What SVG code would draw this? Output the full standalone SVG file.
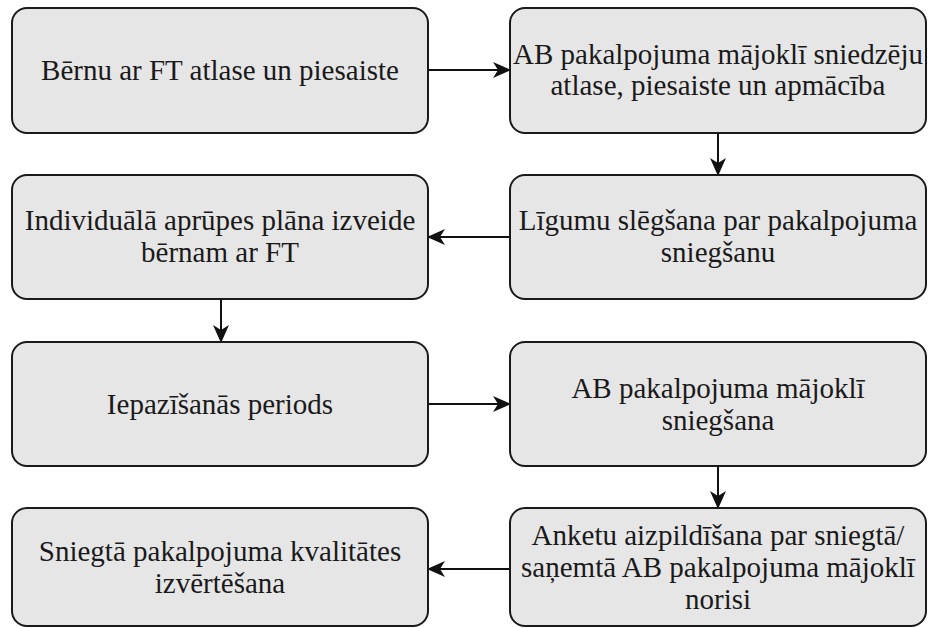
<svg xmlns="http://www.w3.org/2000/svg" width="928" height="628" viewBox="0 0 928 628">
<style>
.box{fill:#e6e6e6;stroke:#1a1a1a;stroke-width:2}
text{font-family:"Liberation Serif","DejaVu Serif",serif;font-size:29px;fill:#1a1a1a;text-anchor:middle}
.c{stroke:#111;stroke-width:2;fill:none;marker-end:url(#ah)}
</style>
<defs>
<marker id="ah" viewBox="0 0 18 18" refX="17" refY="9" markerWidth="18" markerHeight="18" markerUnits="userSpaceOnUse" orient="auto">
<path d="M0,1 L18,9 L0,17 L5,9 Z" fill="#111"/>
</marker>
</defs>
<rect width="928" height="628" fill="#fff"/>
<g id="connectors">
<line class="c" x1="428" y1="70" x2="510" y2="70"/>
<line class="c" x1="718" y1="133" x2="718" y2="175"/>
<line class="c" x1="510" y1="237" x2="428" y2="237"/>
<line class="c" x1="221" y1="299" x2="221" y2="342"/>
<line class="c" x1="428" y1="404" x2="510" y2="404"/>
<line class="c" x1="718" y1="466" x2="718" y2="508"/>
<line class="c" x1="510" y1="569" x2="428" y2="569"/>
</g>
<g id="n1"><rect class="box" x="12" y="8" width="416" height="125" rx="15"/>
<text x="220" y="80">Bērnu ar FT atlase un piesaiste</text></g>
<g id="n2"><rect class="box" x="510" y="8" width="416" height="125" rx="15"/>
<text x="718" y="64">AB pakalpojuma mājoklī sniedzēju</text>
<text x="718" y="95">atlase, piesaiste un apmācība</text></g>
<g id="n3"><rect class="box" x="510" y="175" width="416" height="124" rx="15"/>
<text x="718" y="230">Līgumu slēgšana par pakalpojuma</text>
<text x="718" y="262">sniegšanu</text></g>
<g id="n4"><rect class="box" x="12" y="175" width="416" height="124" rx="15"/>
<text x="220" y="230">Individuālā aprūpes plāna izveide</text>
<text x="220" y="262">bērnam ar FT</text></g>
<g id="n5"><rect class="box" x="12" y="342" width="416" height="124" rx="15"/>
<text x="220" y="414">Iepazīšanās periods</text></g>
<g id="n6"><rect class="box" x="510" y="342" width="416" height="124" rx="15"/>
<text x="718" y="398">AB pakalpojuma mājoklī</text>
<text x="718" y="430">sniegšana</text></g>
<g id="n7"><rect class="box" x="510" y="508" width="416" height="118" rx="15"/>
<text x="718" y="545">Anketu aizpildīšana par sniegtā/</text>
<text x="718" y="577">saņemtā AB pakalpojuma mājoklī</text>
<text x="718" y="609">norisi</text></g>
<g id="n8"><rect class="box" x="12" y="508" width="416" height="118" rx="15"/>
<text x="220" y="561">Sniegtā pakalpojuma kvalitātes</text>
<text x="220" y="593">izvērtēšana</text></g>
</svg>
